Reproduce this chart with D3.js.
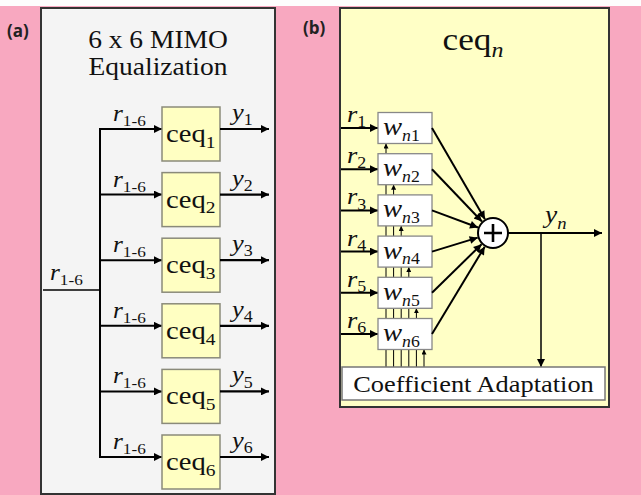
<!DOCTYPE html>
<html>
<head>
<meta charset="utf-8">
<script src="https://cdn.jsdelivr.net/npm/d3@7"></script>
<style>
  html, body { margin: 0; padding: 0; background: #f8a8c0; }
  svg { display: block; }
</style>
</head>
<body>
<script>
// Equalizer branches of the 6x6 MIMO structure and taps of one equalizer
const equalizers = [1, 2, 3, 4, 5, 6];
const taps = [1, 2, 3, 4, 5, 6];
const busSub = "1-6";
const titleA = ["6 x 6 MIMO", "Equalization"];
const adaptLabel = "Coefficient Adaptation";
const panelTags = ["(a)", "(b)"];

const W = 641, H = 495;
const serif = "Liberation Serif";
const SX = 1.1; // slight horizontal widening of the serif lettering

const svg = d3.select("body").append("svg")
  .attr("width", W).attr("height", H);

// arrowheads
const defs = svg.append("defs");
function marker(id, w, h) {
  defs.append("marker")
    .attr("id", id).attr("viewBox", "0 0 10 10")
    .attr("refX", 10).attr("refY", 5)
    .attr("markerWidth", w).attr("markerHeight", h)
    .attr("markerUnits", "userSpaceOnUse")
    .attr("orient", "auto")
    .append("path").attr("d", "M0,0L10,5L0,10z").attr("fill", "#000");
}
marker("arr", 11, 8);
marker("arrS", 5, 5);

// background
svg.append("rect").attr("width", W).attr("height", H).attr("fill", "#f8a8c0");
svg.append("rect").attr("width", W).attr("height", 6).attr("fill", "#fdfdfd");

// text helper: parts = [{t, it, sub}]
function label(g, x, y, parts, size, anchor, subScale) {
  const ss = subScale || 0.68;
  const t = g.append("text")
    .attr("transform", `translate(${x},${y}) scale(${SX},1)`)
    .style("font-family", serif).attr("font-size", size)
    .attr("fill", "#111")
    .attr("text-anchor", anchor || "start");
  parts.forEach(p => {
    if (p.t) t.append("tspan").text(p.t).attr("font-style", p.it ? "italic" : "normal");
    if (p.sub) {
      p.sub.forEach((s, i) => {
        const ts = t.append("tspan").text(s.t)
          .attr("font-size", size * ss)
          .attr("font-style", s.it ? "italic" : "normal");
        if (i === 0) ts.attr("dy", size * 0.22);
      });
    }
  });
  return t;
}

// panel tags
svg.selectAll("text.tag").data(panelTags).join("text")
  .attr("class", "tag")
  .attr("x", (d, i) => i === 0 ? 7 : 303)
  .attr("y", (d, i) => i === 0 ? 37 : 34)
  .style("font-family", "'Open Sans', 'Liberation Sans', sans-serif")
  .style("font-weight", "bold").style("font-size", "17px")
  .attr("fill", "#222")
  .text(d => d);

// ---------------- panel (a) ----------------
const A = svg.append("g");
A.append("rect").attr("x", 41).attr("y", 8).attr("width", 234).attr("height", 486)
  .attr("fill", "#f4f4f4").attr("stroke", "#333").attr("stroke-width", 2);

titleA.forEach((s, i) => label(A, 158, 48 + i * 27, [{ t: s }], 25, "middle"));

const yA = d3.scaleLinear().domain([1, 6]).range([129, 457]);
const busX = 100, boxL = 162, boxR = 220, outTip = 269;

// splitter input and bus
A.append("line").attr("x1", 43).attr("x2", busX).attr("y1", 290).attr("y2", 290)
  .attr("stroke", "#000").attr("stroke-width", 1.5);
A.append("line").attr("x1", busX).attr("x2", busX)
  .attr("y1", yA(1) - 1).attr("y2", yA(6) + 1)
  .attr("stroke", "#000").attr("stroke-width", 2);
label(A, 50, 280, [{ t: "r", it: true, sub: [{ t: busSub }] }], 23);

const rowA = A.selectAll("g.row").data(equalizers).join("g").attr("class", "row");
rowA.append("line")
  .attr("x1", busX).attr("x2", boxL).attr("y1", d => yA(d)).attr("y2", d => yA(d))
  .attr("stroke", "#000").attr("stroke-width", 2).attr("marker-end", "url(#arr)");
rowA.append("rect")
  .attr("x", boxL).attr("y", d => yA(d) - 22).attr("width", boxR - boxL).attr("height", 54)
  .attr("fill", "#ffffc2").attr("stroke", "#8a8a7a").attr("stroke-width", 1.5);
rowA.append("line")
  .attr("x1", boxR).attr("x2", outTip).attr("y1", d => yA(d)).attr("y2", d => yA(d))
  .attr("stroke", "#000").attr("stroke-width", 2.2).attr("marker-end", "url(#arr)");
rowA.each(function (d) {
  const g = d3.select(this);
  label(g, 113, yA(d) - 8, [{ t: "r", it: true, sub: [{ t: busSub }] }], 23);
  label(g, 232, yA(d) - 9, [{ t: "y", it: true, sub: [{ t: String(d) }] }], 24);
  label(g, 166, yA(d) + 13, [{ t: "ceq", sub: [{ t: String(d) }] }], 26);
});

// ---------------- panel (b) ----------------
const B = svg.append("g");
B.append("rect").attr("x", 340).attr("y", 8).attr("width", 269).attr("height", 399)
  .attr("fill", "#ffffc6").attr("stroke", "#333").attr("stroke-width", 2);

label(B, 473, 50, [{ t: "ceq", sub: [{ t: "n", it: true }] }], 32, "middle");

const yB = d3.scaleLinear().domain([1, 6]).range([128, 334]);
const tapX = d3.scaleLinear().domain([1, 6]).range([386, 424]);
const wL = 378, wR = 432, wH = 31;
const sum = { x: 493, y: 233, r: 15 };
const adapt = { x: 342, y: 367, w: 263, h: 33 };

// adaptation feedback lines, each ending at its own tap weight
B.selectAll("line.fb").data(taps).join("line").attr("class", "fb")
  .attr("x1", d => tapX(d)).attr("x2", d => tapX(d))
  .attr("y1", adapt.y).attr("y2", d => yB(d) + wH / 2)
  .attr("stroke", "#000").attr("stroke-width", 1)
  .attr("marker-end", "url(#arrS)");

const rowB = B.selectAll("g.tap").data(taps).join("g").attr("class", "tap");
rowB.append("line")
  .attr("x1", 341).attr("x2", wL).attr("y1", d => yB(d)).attr("y2", d => yB(d))
  .attr("stroke", "#000").attr("stroke-width", 2).attr("marker-end", "url(#arr)");
rowB.append("rect")
  .attr("x", wL).attr("y", d => yB(d) - wH / 2).attr("width", wR - wL).attr("height", wH)
  .attr("fill", "#fff").attr("stroke", "#888").attr("stroke-width", 1.3);
rowB.append("line")
  .attr("x1", wR).attr("y1", d => yB(d))
  .attr("x2", d => {
    const dx = sum.x - wR, dy = sum.y - yB(d), L = Math.hypot(dx, dy);
    return sum.x - dx / L * (sum.r + 1);
  })
  .attr("y2", d => {
    const dx = sum.x - wR, dy = sum.y - yB(d), L = Math.hypot(dx, dy);
    return sum.y - dy / L * (sum.r + 1);
  })
  .attr("stroke", "#000").attr("stroke-width", 2).attr("marker-end", "url(#arr)");
rowB.each(function (d) {
  const g = d3.select(this);
  label(g, 347, yB(d) - 6, [{ t: "r", it: true, sub: [{ t: String(d) }] }], 24);
  label(g, 383, yB(d) + 7, [{ t: "w", it: true, sub: [{ t: "n", it: true }, { t: String(d) }] }], 26, null, 0.62);
});

// summing node
B.append("circle").attr("cx", sum.x).attr("cy", sum.y).attr("r", sum.r)
  .attr("fill", "#fff").attr("stroke", "#000").attr("stroke-width", 2);
B.append("path")
  .attr("d", `M${sum.x - 9},${sum.y}H${sum.x + 9}M${sum.x},${sum.y - 9}V${sum.y + 9}`)
  .attr("stroke", "#000").attr("stroke-width", 2.6);

// output and error feedback
const tapOff = 541;
B.append("line").attr("x1", sum.x + sum.r).attr("x2", 602).attr("y1", sum.y).attr("y2", sum.y)
  .attr("stroke", "#000").attr("stroke-width", 2).attr("marker-end", "url(#arr)");
B.append("line").attr("x1", tapOff).attr("x2", tapOff).attr("y1", sum.y).attr("y2", adapt.y)
  .attr("stroke", "#000").attr("stroke-width", 1.5).attr("marker-end", "url(#arr)");
label(B, 545, 223, [{ t: "y", it: true, sub: [{ t: "n", it: true }] }], 25);

// adaptation block
B.append("rect").attr("x", adapt.x).attr("y", adapt.y).attr("width", adapt.w).attr("height", adapt.h)
  .attr("fill", "#fff").attr("stroke", "#777").attr("stroke-width", 1.5);
label(B, adapt.x + adapt.w / 2, adapt.y + 25, [{ t: adaptLabel }], 24, "middle");
</script>
</body>
</html>
